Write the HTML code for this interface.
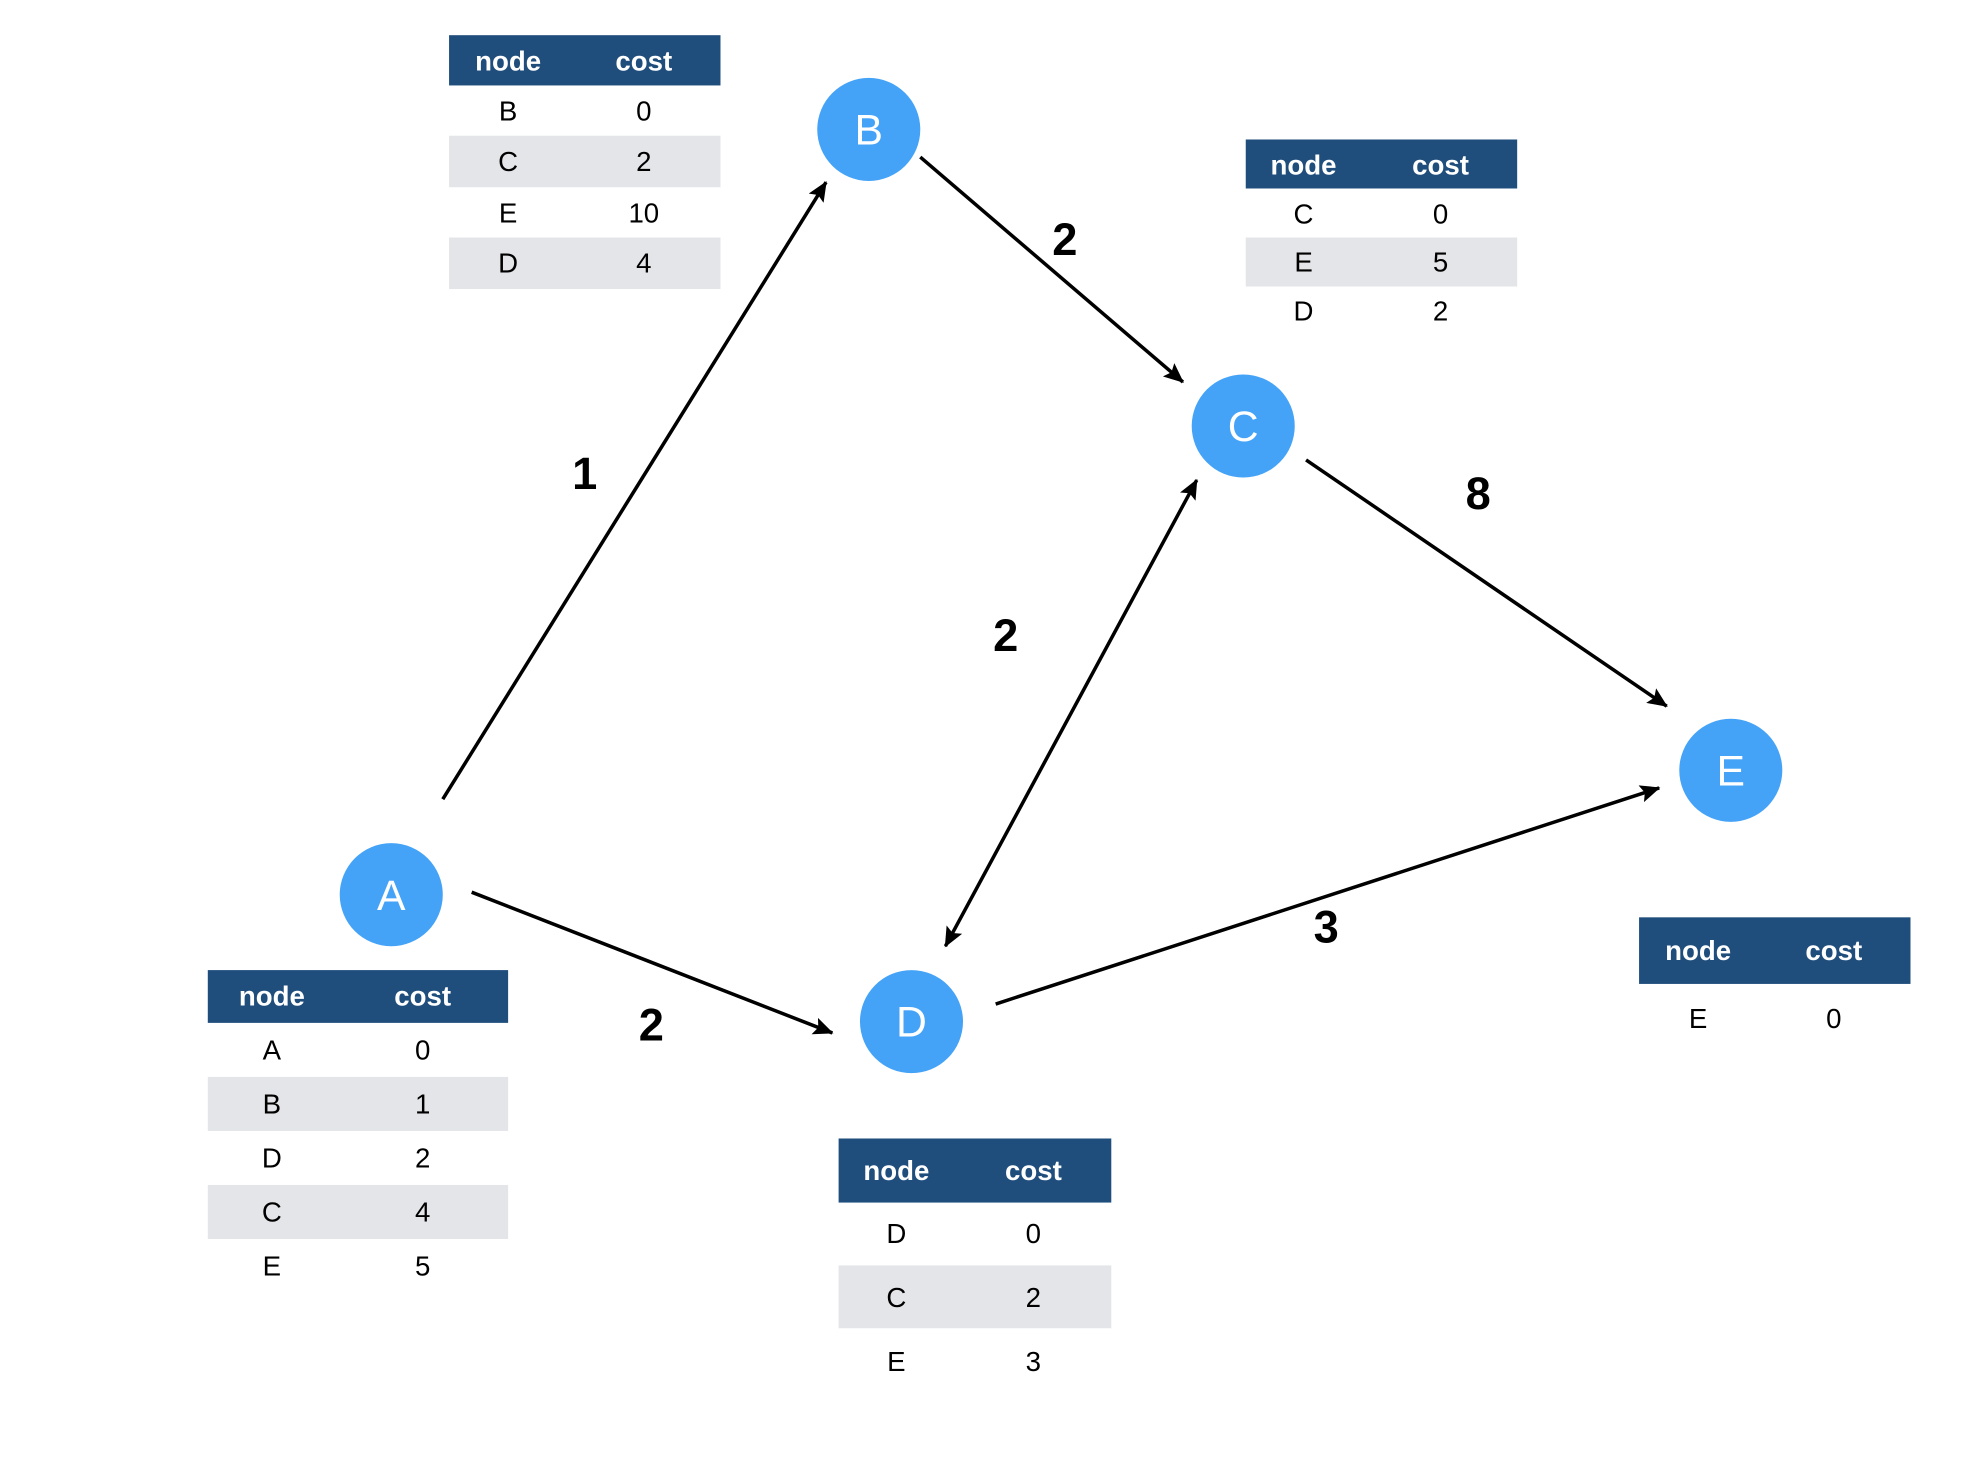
<!DOCTYPE html>
<html><head><meta charset="utf-8"><style>html,body{margin:0;padding:0;background:#fff}svg{display:block}</style></head>
<body>
<svg width="1970" height="1474" viewBox="0 0 1567 1173" xmlns="http://www.w3.org/2000/svg" font-family="Liberation Sans, sans-serif">
<defs>
<marker id="a" viewBox="0 0 16 14" refX="15" refY="7" markerWidth="16" markerHeight="14" orient="auto-start-reverse" markerUnits="userSpaceOnUse"><path d="M0,0 L16,7 L0,14 L3,7 z" fill="#000"/></marker></defs>
<g stroke="#000" stroke-width="2.8" fill="none">
<line x1="352" y1="636" x2="657" y2="145" marker-end="url(#a)"/>
<line x1="732" y1="125" x2="941" y2="304" marker-end="url(#a)"/>
<line x1="1039" y1="366" x2="1326" y2="562" marker-end="url(#a)"/>
<line x1="952" y1="382" x2="752" y2="753" marker-start="url(#a)" marker-end="url(#a)"/>
<line x1="375" y1="710" x2="662" y2="822" marker-end="url(#a)"/>
<line x1="792" y1="799" x2="1320" y2="627" marker-end="url(#a)"/>
</g>
<g font-size="36" font-weight="bold" text-anchor="middle">
<text x="465" y="389">1</text><text x="847" y="203">2</text><text x="1176" y="405">8</text>
<text x="800" y="518">2</text><text x="518" y="828">2</text><text x="1055" y="750">3</text>
</g>
<g fill="#45a3f7"><circle cx="691" cy="103" r="41"/><circle cx="989" cy="339" r="41"/><circle cx="1377" cy="613" r="41"/><circle cx="311" cy="712" r="41"/><circle cx="725" cy="813" r="41"/></g>
<g fill="#fff" font-size="34" text-anchor="middle">
<text x="691" y="115">B</text><text x="989" y="351">C</text><text x="1377" y="625">E</text><text x="311" y="724">A</text><text x="725" y="825">D</text>
</g>
<rect x="357" y="28" width="216" height="40" fill="#1f4e7d"/>
<rect x="357" y="108" width="216" height="41" fill="#e4e5e8"/><rect x="357" y="189" width="216" height="41" fill="#e4e5e8"/>
<rect x="991" y="111" width="216" height="39" fill="#1f4e7d"/>
<rect x="991" y="189" width="216" height="39" fill="#e4e5e8"/>
<rect x="1304" y="730" width="216" height="53" fill="#1f4e7d"/>
<rect x="165" y="772" width="239" height="42" fill="#1f4e7d"/>
<rect x="165" y="857" width="239" height="43" fill="#e4e5e8"/><rect x="165" y="943" width="239" height="43" fill="#e4e5e8"/>
<rect x="667" y="906" width="217" height="51" fill="#1f4e7d"/>
<rect x="667" y="1007" width="217" height="50" fill="#e4e5e8"/>
<g fill="#fff" font-size="22" font-weight="bold" text-anchor="middle">
<text x="404" y="56">node</text><text x="512" y="56">cost</text>
<text x="1037" y="139">node</text><text x="1146" y="139">cost</text>
<text x="1351" y="764">node</text><text x="1459" y="764">cost</text>
<text x="216" y="800">node</text><text x="336" y="800">cost</text>
<text x="713" y="939">node</text><text x="822" y="939">cost</text>
</g>
<g fill="#000" font-size="22" text-anchor="middle">
<text x="404" y="96">B</text><text x="512" y="96">0</text>
<text x="404" y="136">C</text><text x="512" y="136">2</text>
<text x="404" y="177">E</text><text x="512" y="177">10</text>
<text x="404" y="217">D</text><text x="512" y="217">4</text>
<text x="1037" y="178">C</text><text x="1146" y="178">0</text>
<text x="1037" y="216">E</text><text x="1146" y="216">5</text>
<text x="1037" y="255">D</text><text x="1146" y="255">2</text>
<text x="1351" y="818">E</text><text x="1459" y="818">0</text>
<text x="216" y="843">A</text><text x="336" y="843">0</text>
<text x="216" y="886">B</text><text x="336" y="886">1</text>
<text x="216" y="929">D</text><text x="336" y="929">2</text>
<text x="216" y="972">C</text><text x="336" y="972">4</text>
<text x="216" y="1015">E</text><text x="336" y="1015">5</text>
<text x="713" y="989">D</text><text x="822" y="989">0</text>
<text x="713" y="1040">C</text><text x="822" y="1040">2</text>
<text x="713" y="1091">E</text><text x="822" y="1091">3</text>
</g>
</svg>
</body></html>
